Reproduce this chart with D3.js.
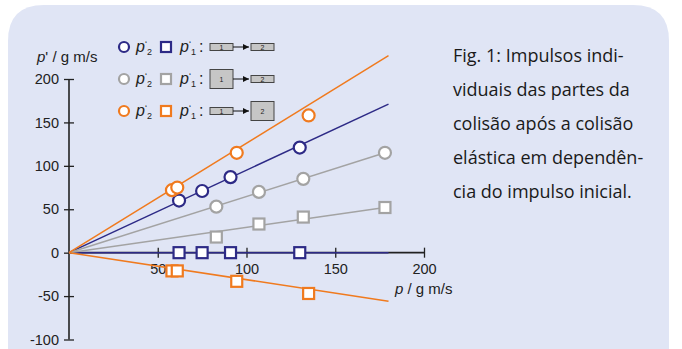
<!DOCTYPE html>
<html>
<head>
<meta charset="utf-8">
<script src="https://cdn.jsdelivr.net/npm/d3@7"></script>
<style>
  html, body { margin: 0; padding: 0; background: #fff; }
  svg { display: block; }
</style>
</head>
<body>
<svg id="chart" width="682" height="349"></svg>
<script>
// momentum before collision p, and after collision p'2 / p'1 for the three mass cases
const pBlue = [62, 75, 91, 130];
const p2Blue = [60, 71, 87, 121];
const p1Blue = [0, 0, 0, 0];

const pGray = [83, 107, 132, 178];
const p2Gray = [53, 70, 85, 115];
const p1Gray = [18, 33, 41, 52];

const pOrange = [58, 61, 94.5, 135];
const p2Orange = [72, 75, 115, 158];
const p1Orange = [-21, -21, -33, -47];

// end points of the straight lines from the origin
const fitEnds = [
  { key: "blue", p: 180, p2: 171, p1: 0 },
  { key: "gray", p: 178, p2: 115, p1: 52 },
  { key: "orange", p: 180, p2: 227, p1: -56 }
];

const xTicks = [50, 100, 150, 200];
const yTicks = [-100, -50, 0, 50, 100, 150, 200];

const caption = [
  "Fig. 1: Impulsos indi-",
  "viduais das partes da",
  "colisão após a colisão",
  "elástica em dependên-",
  "cia do impulso inicial."
];

const colors = { blue: "#2d2a86", gray: "#a3a3a3", orange: "#f07a1e" };

const series = [
  { key: "blue", p: pBlue, p2: p2Blue, p1: p1Blue },
  { key: "gray", p: pGray, p2: p2Gray, p1: p1Gray },
  { key: "orange", p: pOrange, p2: p2Orange, p1: p1Orange }
];

const svg = d3.select("#chart");
const font = "'Liberation Sans', Arial, sans-serif";

// panel background with rounded top corners
const px0 = 8, py0 = 5, px1 = 669, r = 36;
svg.append("path")
  .attr("d", `M${px0},360 L${px0},${py0 + r} Q${px0},${py0} ${px0 + r},${py0} L${px1 - r},${py0} Q${px1},${py0} ${px1},${py0 + r} L${px1},360 Z`)
  .attr("fill", "#e0e5f5");

const x = d3.scaleLinear().domain([0, 200]).range([69, 424]);
const y = d3.scaleLinear().domain([-100, 200]).range([339.5, 79]);

// y axis
const yAxis = svg.append("g")
  .attr("transform", `translate(${x(0)},0)`)
  .call(d3.axisLeft(y).tickValues(yTicks).tickSize(5).tickPadding(5).tickFormat(d => String(d)));
yAxis.select(".domain").remove();
yAxis.selectAll(".tick line").attr("x1", 5).attr("stroke", "#222").attr("stroke-width", 1.3);
yAxis.selectAll(".tick text").attr("font-family", font).attr("font-size", 14.5).attr("fill", "#222");
yAxis.append("line")
  .attr("y1", y(200)).attr("y2", y(-100))
  .attr("stroke", "#222").attr("stroke-width", 1.6);

// x axis
const xAxis = svg.append("g")
  .attr("transform", `translate(0,${y(0)})`)
  .call(d3.axisBottom(x).tickValues(xTicks).tickSize(5).tickPadding(6).tickFormat(d => String(d)));
xAxis.select(".domain").remove();
xAxis.selectAll(".tick line").attr("y1", -5).attr("stroke", "#222").attr("stroke-width", 1.3);
xAxis.selectAll(".tick text").attr("font-family", font).attr("font-size", 14.5).attr("fill", "#222");
xAxis.append("line")
  .attr("x1", x(0)).attr("x2", x(200))
  .attr("stroke", "#222").attr("stroke-width", 1.6);

// axis titles
const yTitle = svg.append("text")
  .attr("x", 37).attr("y", 62)
  .attr("font-family", font).attr("font-size", 15).attr("fill", "#222");
yTitle.append("tspan").attr("font-style", "italic").text("p");
yTitle.append("tspan").text("' / g m/s");

const xTitle = svg.append("text")
  .attr("x", 395).attr("y", 294)
  .attr("font-family", font).attr("font-size", 15).attr("fill", "#222");
xTitle.append("tspan").attr("font-style", "italic").text("p");
xTitle.append("tspan").text(" / g m/s");

// lines through origin
const line = d3.line().x(d => x(d[0])).y(d => y(d[1]));
fitEnds.forEach(f => {
  svg.append("path")
    .datum([[0, 0], [f.p, f.p2]])
    .attr("d", line).attr("fill", "none")
    .attr("stroke", colors[f.key]).attr("stroke-width", 1.5);
  svg.append("path")
    .datum([[0, 0], [f.p, f.p1]])
    .attr("d", line).attr("fill", "none")
    .attr("stroke", colors[f.key]).attr("stroke-width", 1.5);
});

// markers
series.forEach(s => {
  const pts = s.p.map((p, i) => ({ p, p2: s.p2[i], p1: s.p1[i] }));
  svg.append("g").selectAll("rect")
    .data(pts)
    .join("rect")
    .attr("x", d => x(d.p) - 5.5)
    .attr("y", d => y(d.p1) - 5.5)
    .attr("width", 11).attr("height", 11)
    .attr("fill", "#fff")
    .attr("stroke", colors[s.key]).attr("stroke-width", 2.2);
  svg.append("g").selectAll("circle")
    .data(pts)
    .join("circle")
    .attr("cx", d => x(d.p))
    .attr("cy", d => y(d.p2))
    .attr("r", 6)
    .attr("fill", "#fff")
    .attr("stroke", colors[s.key]).attr("stroke-width", 2.2);
});

// legend
const legendRows = [
  { key: "blue", y: 47, h1: 7, h2: 7 },
  { key: "gray", y: 79, h1: 19, h2: 7 },
  { key: "orange", y: 111, h1: 7, h2: 19 }
];

svg.append("defs").append("marker")
  .attr("id", "arrow")
  .attr("viewBox", "0 0 10 10")
  .attr("refX", 10).attr("refY", 5)
  .attr("markerWidth", 6).attr("markerHeight", 6)
  .attr("orient", "auto")
  .append("path").attr("d", "M0,0 L10,5 L0,10 Z").attr("fill", "#111");

function pLabel(g, xPos, yPos, sub) {
  const t = g.append("text")
    .attr("x", xPos).attr("y", yPos + 5)
    .attr("font-family", font).attr("font-size", 16).attr("fill", "#222");
  t.append("tspan").attr("font-style", "italic").text("p");
  t.append("tspan").attr("font-size", 9).attr("dy", -5).text("‘");
  t.append("tspan").attr("font-size", 9).attr("dy", 8).text(sub);
  return t;
}

legendRows.forEach(row => {
  const g = svg.append("g");
  g.append("circle")
    .attr("cx", 124).attr("cy", row.y).attr("r", 5)
    .attr("fill", "#fff").attr("stroke", colors[row.key]).attr("stroke-width", 2.2);
  pLabel(g, 136, row.y, "2");
  g.append("rect")
    .attr("x", 161).attr("y", row.y - 5).attr("width", 10).attr("height", 10)
    .attr("fill", "#fff").attr("stroke", colors[row.key]).attr("stroke-width", 2.2);
  pLabel(g, 180, row.y, "1");
  g.append("text")
    .attr("x", 199).attr("y", row.y + 5)
    .attr("font-family", font).attr("font-size", 16).attr("fill", "#222").text(":");

  const boxes = [{ x0: 210, h: row.h1, n: "1" }, { x0: 251, h: row.h2, n: "2" }];
  boxes.forEach(b => {
    g.append("rect")
      .attr("x", b.x0).attr("y", row.y - b.h / 2)
      .attr("width", 23).attr("height", b.h)
      .attr("fill", "#c6c6c6").attr("stroke", "#444").attr("stroke-width", 1);
    g.append("text")
      .attr("x", b.x0 + 11.5).attr("y", row.y + 2.5)
      .attr("text-anchor", "middle")
      .attr("font-family", font).attr("font-size", 7).attr("fill", "#222").text(b.n);
  });
  g.append("line")
    .attr("x1", 233).attr("y1", row.y).attr("x2", 249).attr("y2", row.y)
    .attr("stroke", "#111").attr("stroke-width", 1)
    .attr("marker-end", "url(#arrow)");
});

// caption
svg.append("g").selectAll("text")
  .data(caption)
  .join("text")
  .attr("x", 453)
  .attr("y", (d, i) => 62 + i * 34)
  .attr("font-family", "'Open Sans', sans-serif")
  .attr("font-size", 18)
  .attr("font-weight", 500)
  .attr("fill", "#1a1a1a")
  .text(d => d);
</script>
</body>
</html>
